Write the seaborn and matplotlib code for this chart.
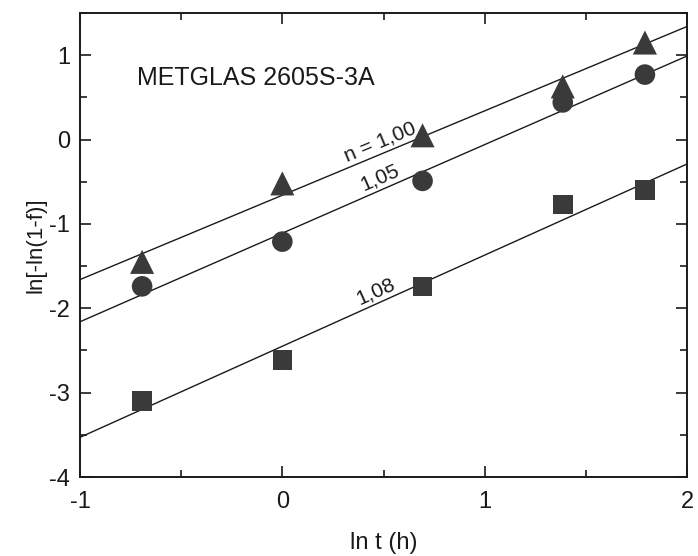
import numpy as np
import pandas as pd
import seaborn as sns
import matplotlib
matplotlib.use("Agg")
import matplotlib.pyplot as plt
from matplotlib.ticker import MultipleLocator

# ---- data ----
ln_t = [-0.693, 0.0, 0.693, 1.386, 1.792]
tri_y = [-1.45, -0.52, 0.05, 0.63, 1.15]
circ_y = [-1.74, -1.21, -0.49, 0.44, 0.77]
sq_y = [-3.10, -2.61, -1.74, -0.77, -0.60]

fit_n = [1.00, 1.05, 1.08]
fit_c = [-0.66, -1.11, -2.45]
fit_labels = ["n = 1,00", "1,05", "1,08"]
label_x = [0.50, 0.50, 0.48]
x_range = [-1.0, 2.0]

sns.set_theme(style="ticks")
plt.rcParams["font.family"] = ["Liberation Sans", "DejaVu Sans"]
plt.rcParams["axes.unicode_minus"] = False

fig = plt.figure(figsize=(6.98, 5.56), dpi=100)
ax = fig.add_axes([80/698, 1-477/556, (687-80)/698, (477-13)/556])

mc = "#3a3a3a"
ink = "#1a1a1a"
ax.set_xlim(-1, 2)
ax.set_ylim(-4, 1.5)

# fitted lines
for n, c in zip(fit_n, fit_c):
    xs = np.array(x_range)
    sns.lineplot(x=xs, y=n * xs + c, ax=ax, color=ink, lw=1.0, zorder=2)

series = [(tri_y, "^", 300), (circ_y, "o", 220), (sq_y, "s", 200)]
for ys, mk, sz in series:
    sns.scatterplot(x=ln_t, y=ys, marker=mk, s=sz, color=mc, edgecolor="none",
                    legend=False, ax=ax, zorder=3)

# rotated labels on lines
fig.canvas.draw()
for n, c, lab, lx in zip(fit_n, fit_c, fit_labels, label_x):
    p0 = ax.transData.transform((0, c))
    p1 = ax.transData.transform((1, n + c))
    ang = np.degrees(np.arctan2(p1[1] - p0[1], p1[0] - p0[0]))
    ax.annotate(lab, xy=(lx, n * lx + c), xytext=(0, 2), textcoords="offset points",
                rotation=ang, rotation_mode="anchor", ha="center", va="bottom",
                fontsize=15, color=ink)

ax.text(-0.72, 0.73, "METGLAS 2605S-3A", fontsize=18, color=ink, va="center", ha="left")

ax.xaxis.set_major_locator(MultipleLocator(1))
ax.xaxis.set_minor_locator(MultipleLocator(0.5))
ax.yaxis.set_major_locator(MultipleLocator(1))
ax.yaxis.set_minor_locator(MultipleLocator(0.5))
ax.tick_params(which="both", direction="in", top=True, right=True, width=1.2, color=ink)
ax.tick_params(which="major", length=8, labelsize=17, labelcolor=ink)
ax.tick_params(axis="x", which="major", pad=10)
ax.tick_params(axis="y", which="major", pad=7)
ax.tick_params(which="minor", length=5)
for sp in ax.spines.values():
    sp.set_linewidth(1.4)
    sp.set_color(ink)

ax.set_xlabel("ln t (h)", fontsize=17, labelpad=14, color=ink)
ax.set_ylabel("ln[-ln(1-f)]", fontsize=16, labelpad=2, color=ink)

fig.savefig("out.png", dpi=100)
